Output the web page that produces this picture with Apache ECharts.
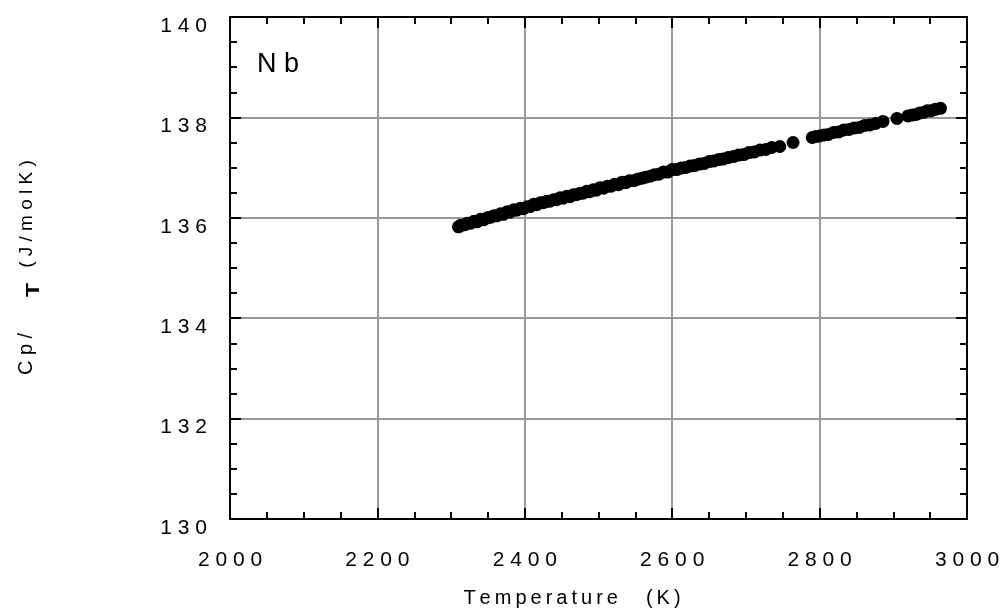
<!DOCTYPE html>
<html>
<head>
<meta charset="utf-8">
<title>Nb heat capacity</title>
<script src="https://cdn.jsdelivr.net/npm/echarts@6/dist/echarts.min.js"></script>
<style>
  html, body { margin: 0; padding: 0; background: #ffffff; }
  #chart { width: 1003px; height: 610px; }
</style>
</head>
<body>
<div id="chart"></div>
<script>
// Measured temperatures (K)
const temperature = [
  2310, 2313, 2318, 2322, 2326, 2331, 2335, 2340, 2344, 2349,
  2353, 2358, 2362, 2367, 2371, 2376, 2380, 2385, 2389, 2394,
  2398, 2403, 2407, 2412, 2416, 2421, 2425, 2430, 2434, 2439,
  2443, 2448, 2452, 2457, 2461, 2466, 2470, 2475, 2479, 2484,
  2488, 2493, 2497, 2502, 2507, 2512, 2517, 2522, 2527, 2532,
  2537, 2542, 2548, 2553, 2559, 2564, 2570, 2576, 2582, 2588,
  2594, 2600, 2606, 2612, 2618, 2624, 2630, 2637, 2643, 2650,
  2656, 2663, 2669, 2676, 2683, 2690, 2697, 2704, 2711, 2719,
  2727, 2735, 2746, 2764, 2790, 2795, 2800, 2806, 2812, 2819,
  2826, 2833, 2840, 2847, 2854, 2861, 2868, 2876, 2886, 2905,
  2920, 2926, 2931, 2936, 2941, 2946, 2951, 2957, 2964
];

// Heat capacity values (J/molK)
const heatCapacity = [
  135.82, 135.85, 135.86, 135.89, 135.89, 135.93, 135.92, 135.97, 135.96, 136.00,
  136.01, 136.04, 136.04, 136.08, 136.07, 136.12, 136.11, 136.16, 136.15, 136.19,
  136.18, 136.22, 136.22, 136.27, 136.26, 136.30, 136.30, 136.33, 136.33, 136.36,
  136.36, 136.40, 136.39, 136.43, 136.42, 136.46, 136.46, 136.49, 136.49, 136.53,
  136.52, 136.56, 136.55, 136.60, 136.59, 136.63, 136.63, 136.67, 136.66, 136.71,
  136.70, 136.74, 136.74, 136.77, 136.79, 136.81, 136.83, 136.86, 136.87, 136.91,
  136.91, 136.96, 136.96, 136.99, 137.00, 137.03, 137.04, 137.07, 137.08, 137.12,
  137.13, 137.16, 137.17, 137.20, 137.22, 137.25, 137.26, 137.30, 137.31, 137.35,
  137.36, 137.40, 137.42, 137.50, 137.60, 137.62, 137.63, 137.65, 137.66, 137.70,
  137.71, 137.75, 137.76, 137.79, 137.80, 137.84, 137.85, 137.88, 137.92, 137.98,
  138.03, 138.05, 138.06, 138.09, 138.10, 138.13, 138.13, 138.16, 138.18
];

// Axis ranges and tick steps
const xRange = [2000, 3000];
const xStep = 200;
const yRange = [130, 140];
const yStep = 2;

const FONT = '"Liberation Sans", Arial, sans-serif';
const spaced = s => String(s).split('').join(' ');
const thin = s => String(s).split('').join('\u2009');

const points = temperature.map((t, i) => [t, heatCapacity[i]]);

const frameLine = { show: true, lineStyle: { color: '#000', width: 2 } };
const majorTick = { show: true, inside: true, length: 11, lineStyle: { color: '#000', width: 2 } };
const minorTick = { show: true, splitNumber: 4, length: 7, lineStyle: { color: '#000', width: 2 } };
const gridLine = { show: true, lineStyle: { color: '#999', width: 2 } };

function xAxisDef(position, withLabels) {
  return {
    type: 'value', position,
    min: xRange[0], max: xRange[1], interval: xStep,
    axisLine: frameLine, axisTick: majorTick, minorTick,
    splitLine: withLabels ? gridLine : { show: false },
    axisLabel: withLabels
      ? { show: true, margin: 31, fontFamily: FONT, fontSize: 21, color: '#000', formatter: spaced }
      : { show: false }
  };
}
function yAxisDef(position, withLabels) {
  return {
    type: 'value', position,
    min: yRange[0], max: yRange[1], interval: yStep,
    axisLine: frameLine, axisTick: majorTick, minorTick,
    splitLine: withLabels ? gridLine : { show: false },
    axisLabel: withLabels
      ? { show: true, margin: 23, fontFamily: FONT, fontSize: 21, color: '#000',
          verticalAlign: 'top', lineHeight: 18, formatter: spaced }
      : { show: false }
  };
}

const chart = echarts.init(document.getElementById('chart'), null, { renderer: 'canvas' });
chart.setOption({
  animation: false,
  backgroundColor: '#fff',
  grid: { left: 230, right: 36, top: 17, bottom: 91, containLabel: false },
  xAxis: [xAxisDef('bottom', true), xAxisDef('top', false)],
  yAxis: [yAxisDef('left', true), yAxisDef('right', false)],
  series: [{
    type: 'scatter',
    xAxisIndex: 0, yAxisIndex: 0,
    data: points,
    symbol: 'circle',
    symbolSize: 13,
    itemStyle: { color: '#000', opacity: 1 },
    z: 5
  }],
  graphic: [
    { type: 'text', left: 257, top: 51,
      style: { text: 'N b', fontFamily: FONT, fontSize: 27, fill: '#000' } },
    { type: 'text', x: 572, y: 598,
      style: { text: thin('Temperature') + '\u2009\u2009\u2009\u2009\u2009\u2009\u2009' + thin('(K)'),
               fontFamily: FONT, fontSize: 20, fill: '#000',
               align: 'center', verticalAlign: 'middle' } },
    { type: 'text', x: 26, y: 354, rotation: Math.PI / 2,
      style: { text: 'C p /', fontFamily: FONT, fontSize: 20, fill: '#000',
               align: 'center', verticalAlign: 'middle' } },
    { type: 'text', x: 34, y: 290, rotation: Math.PI / 2, scaleY: 0.8,
      style: { text: 'T', fontFamily: FONT, fontSize: 23, fontWeight: 'bold', fill: '#000',
               align: 'center', verticalAlign: 'middle' } },
    { type: 'text', x: 27, y: 214, rotation: Math.PI / 2,
      style: { text: '( J / m o l K )', fontFamily: FONT, fontSize: 19, fill: '#000',
               align: 'center', verticalAlign: 'middle' } }
  ]
});
</script>
</body>
</html>
